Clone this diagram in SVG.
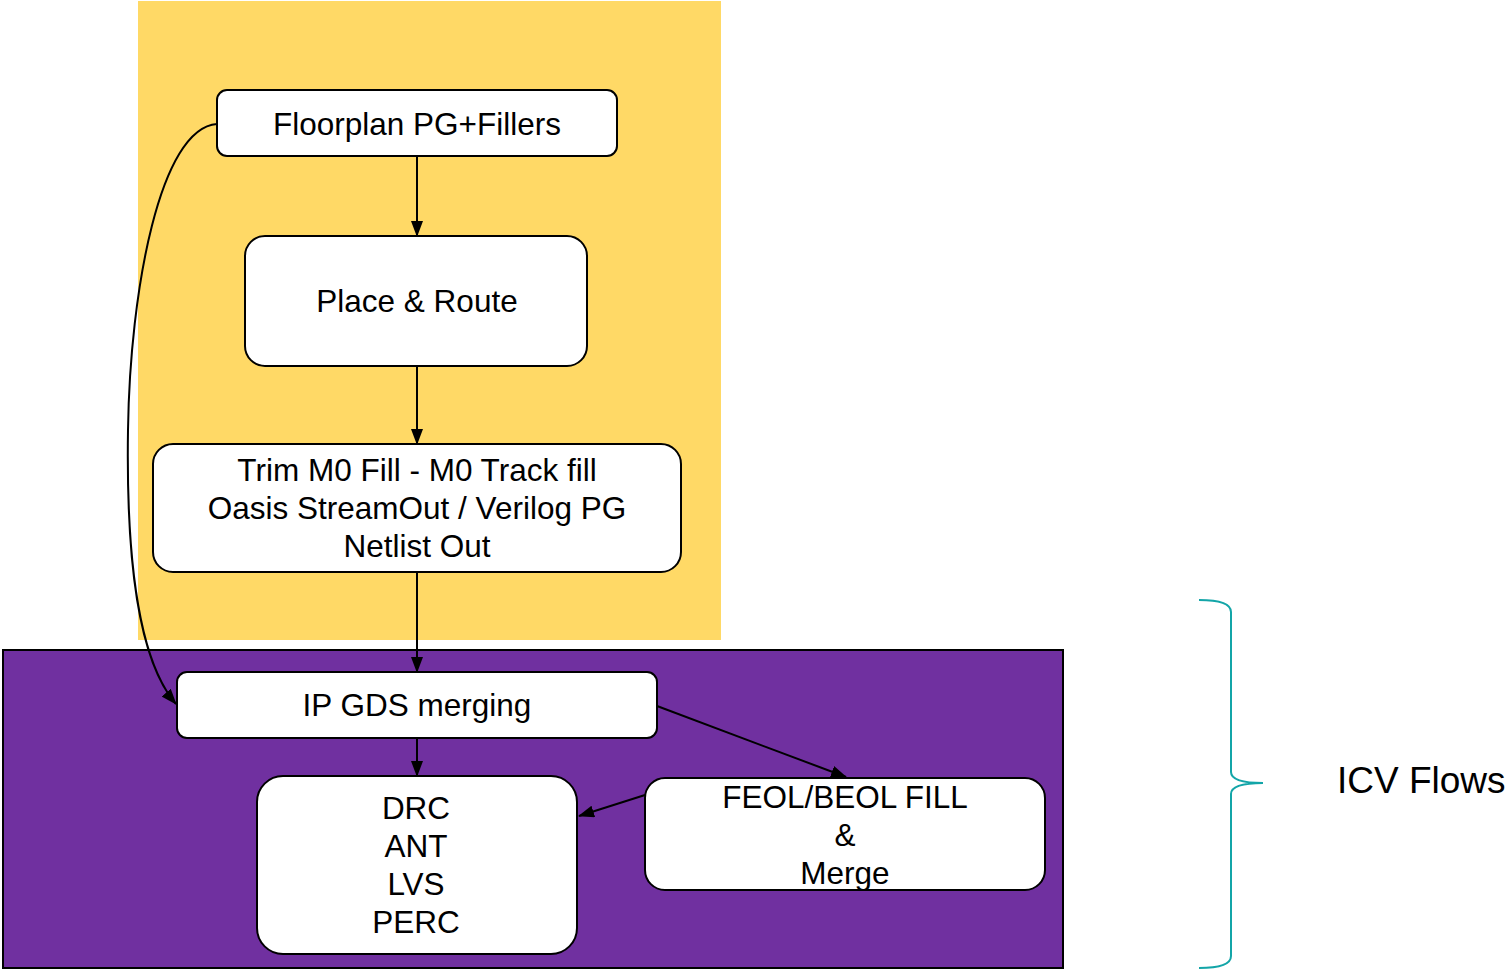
<svg xmlns="http://www.w3.org/2000/svg" width="1511" height="970" viewBox="0 0 1511 970">
  <style>
    .box { fill: #ffffff; stroke: #000000; stroke-width: 2; }
    .lbl { font-family: "Liberation Sans", Arial, sans-serif; font-size: 31.5px; fill: #000000; text-anchor: middle; }
    .edge { fill: none; stroke: #000000; stroke-width: 2; }
  </style>
  <defs>
    <marker id="arrow" viewBox="0 0 16 12" refX="15" refY="6" markerWidth="16" markerHeight="12" markerUnits="userSpaceOnUse" orient="auto">
      <path d="M0,0 L16,6 L0,12 z" fill="#000000"/>
    </marker>
  </defs>
  <rect width="1511" height="970" fill="#ffffff"/>

  <!-- background regions -->
  <rect id="region-pnr" x="138" y="1" width="583" height="639" fill="#FFD966"/>
  <rect id="region-icv" x="3" y="650" width="1060" height="318" fill="#7030A0" stroke="#000000" stroke-width="2"/>

  <!-- nodes -->
  <g id="floorplan">
    <rect class="box" x="217" y="90" width="400" height="66" rx="10"/>
    <text class="lbl" x="417" y="135">Floorplan PG+Fillers</text>
  </g>
  <g id="place-route">
    <rect class="box" x="245" y="236" width="342" height="130" rx="20"/>
    <text class="lbl" x="417" y="312">Place &amp; Route</text>
  </g>
  <g id="trim-fill">
    <rect class="box" x="153" y="444" width="528" height="128" rx="20"/>
    <text class="lbl" x="417" y="481">Trim M0 Fill - M0 Track fill</text>
    <text class="lbl" x="417" y="519">Oasis StreamOut / Verilog PG</text>
    <text class="lbl" x="417" y="557">Netlist Out</text>
  </g>
  <g id="ip-gds">
    <rect class="box" x="177" y="672" width="480" height="66" rx="10"/>
    <text class="lbl" x="417" y="716">IP GDS merging</text>
  </g>
  <g id="checks">
    <rect class="box" x="257" y="776" width="320" height="178" rx="26"/>
    <text class="lbl" x="416" y="819">DRC</text>
    <text class="lbl" x="416" y="857">ANT</text>
    <text class="lbl" x="416" y="895">LVS</text>
    <text class="lbl" x="416" y="933">PERC</text>
  </g>
  <g id="fill-merge">
    <rect class="box" x="645" y="778" width="400" height="112" rx="20"/>
    <text class="lbl" x="845" y="808">FEOL/BEOL FILL</text>
    <text class="lbl" x="845" y="846">&amp;</text>
    <text class="lbl" x="845" y="884">Merge</text>
  </g>

  <!-- connectors -->
  <g id="connectors">
    <line class="edge" x1="417" y1="156" x2="417" y2="236" marker-end="url(#arrow)"/>
    <line class="edge" x1="417" y1="366" x2="417" y2="444" marker-end="url(#arrow)"/>
    <line class="edge" x1="417" y1="572" x2="417" y2="672" marker-end="url(#arrow)"/>
    <line class="edge" x1="417" y1="738" x2="417" y2="776" marker-end="url(#arrow)"/>
    <line class="edge" x1="657" y1="706" x2="846" y2="777" marker-end="url(#arrow)"/>
    <line class="edge" x1="645" y1="795" x2="579" y2="816" marker-end="url(#arrow)"/>
    <path class="edge" d="M217,124 C160,128 130,290 128,430 C126,560 138,660 176,704" marker-end="url(#arrow)"/>
  </g>

  <!-- ICV bracket and label -->
  <g id="icv-flows">
    <path d="M1199,600 Q1231,600 1231,612 L1231,772 Q1231,783 1263,783 Q1231,783 1231,794 L1231,956 Q1231,968 1199,968" fill="none" stroke="#13A5A8" stroke-width="2"/>
    <text x="1337" y="793" font-family="Liberation Sans, Arial, sans-serif" font-size="37" fill="#000000">ICV Flows</text>
  </g>
</svg>
